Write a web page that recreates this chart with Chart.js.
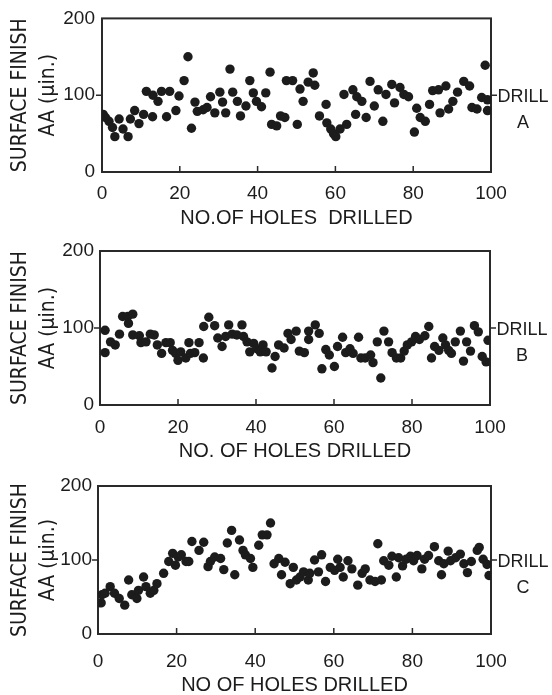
<!DOCTYPE html>
<html>
<head>
<meta charset="utf-8">
<script src="https://cdn.jsdelivr.net/npm/chart.js@4.4.0/dist/chart.umd.min.js"></script>
<style>
  html, body { margin: 0; padding: 0; background: #fff; overflow: hidden; }
  body { width: 552px; height: 695px; position: relative; }
  .panel { position: absolute; left: 0; width: 552px; }
</style>
</head>
<body>
<div class="panel" style="top:0px"><canvas id="chartA" width="552" height="230"></canvas></div>
<div class="panel" style="top:231px"><canvas id="chartB" width="552" height="232"></canvas></div>
<div class="panel" style="top:463px"><canvas id="chartC" width="552" height="234"></canvas></div>
<script>
// surface finish readings, drill A
const holesA = [0.3,0.9,1.8,2.7,3.3,4.4,5.4,6.7,7.3,8.4,9.5,10.7,11.4,13,13.1,14.4,15.3,16.6,17.4,19,
  19.8,21.1,22.1,23,23.9,24.5,26,27,27.9,29,30.3,31,31.8,32.9,33.6,34.8,35.6,37,38,38.9,
  39.7,41,42.1,43.2,43.6,44.9,45.9,47,47.4,49,50.2,50.9,51.7,53,54.3,54.7,55.9,57.6,57.8,58.8,
  59.5,60.1,61.2,62.2,62.9,64.5,65.2,65.5,66.8,67.9,68.9,70,71,72.2,73,74.5,75.2,76.6,77.6,78.8,
  80.3,80.9,81.8,83.1,84.2,85,86.5,86.9,88.4,89.1,90.2,91.4,93,94.5,95.1,96.4,97.6,98.5,99.1,99.1];
const finishA = [75,71,66,58,46,69,56,46,69,80,63,75,105,72,100,92,105,72,105,80,
  99,119,150,57,91,79,81,84,98,77,104,91,77,134,104,92,73,86,119,103,
  92,85,103,130,62,60,73,71,119,119,62,108,92,117,129,113,73,88,64,56,
  50,46,56,101,62,107,75,98,92,71,118,86,107,66,101,114,90,110,101,98,
  52,83,71,66,88,106,107,77,112,82,92,104,118,112,84,82,97,139,94,80];

// drill B
const holesB = [1.3,1.3,2.7,3.9,5.0,5.8,7.1,7.3,8.4,8.4,10.1,10.5,11.8,12.9,13.9,14.7,15.8,16.9,18.0,18.6,
  19.4,20.0,20.7,22.0,22.8,23.2,24.3,25.4,26.5,26.6,27.9,29.4,30.2,31.3,32.2,33.0,33.9,35.1,36.4,36.8,
  37.7,38.4,39.4,40.2,41.1,41.8,42.6,44.1,44.9,45.8,47.2,48.2,49.0,50.3,51.1,52.4,53.5,53.5,55.2,56.2,
  56.9,57.9,58.8,60.1,60.9,62.2,63.0,64.1,64.9,66.3,66.9,68.0,69.4,70.0,71.1,72.0,72.8,74.0,74.9,76.0,
  77.1,78.0,78.8,79.9,80.9,81.9,83.3,84.3,85.0,85.8,86.9,87.9,88.6,89.4,90.1,91.1,92.4,93.2,94,95,
  96,97,98,99,99.5];
const finishB = [97,68,82,78,92,115,115,106,118,91,90,81,82,92,91,78,67,81,81,71,
  67,58,69,61,81,67,68,81,61,102,114,103,87,76,89,104,92,91,104,89,
  82,69,80,73,69,78,69,48,63,78,74,93,85,96,70,68,85,96,104,93,
  47,72,65,50,76,88,68,73,67,88,61,61,65,55,82,35,96,82,68,61,
  61,70,78,82,89,85,90,102,61,76,71,87,78,71,67,82,96,57,82,70,
  103,95,63,56,84];

// drill C
const holesC = [0.8,1.0,1.8,3.1,4.2,5.4,6.8,7.8,8.6,9.9,10.3,11.6,12.2,13.3,14.2,15.0,16.7,18.0,19.0,19.7,
  20.4,21.2,22.4,23.1,23.9,25.7,26.9,28.0,28.6,29.7,31.2,32.0,32.9,34.0,34.8,36.0,36.9,37.5,38.8,39.4,
  40.9,41.8,43.0,43.9,44.8,46.0,46.7,47.6,48.9,49.7,50.5,51.4,52.3,53.5,53.9,55.1,56.1,56.9,57.9,59.1,
  60.2,61.0,61.6,62.4,63.6,64.6,66.1,67.2,68.0,69.2,70.5,71.2,72.1,72.7,74.0,74.8,75.9,76.5,77.5,78.4,
  79.5,80.3,81.2,82.4,83.1,84.1,85.6,86.7,87.4,88.0,89.1,89.7,91.0,92.2,93.1,94,95,96.5,97,98,
  99,99.5];
const finishC = [42,53,55,64,55,48,39,73,53,48,59,77,64,55,59,68,82,98,109,93,
  104,107,98,98,125,113,124,91,98,104,102,87,123,140,80,127,113,107,102,90,
  120,134,134,150,95,102,80,97,68,90,73,77,84,73,82,100,84,107,71,90,
  86,101,90,77,99,88,66,82,88,73,71,122,73,99,93,105,77,103,92,101,
  105,99,106,88,101,106,118,99,80,95,112,99,103,108,95,83,98,113,117,101,
  94,79];

const xTicks = [0, 20, 40, 60, 80, 100];
const yTicks = [0, 100, 200];
const yTitle = ['SURFACE FINISH', 'AA (\u03bcin.)'];

const ink = '#1c1c1c';
const FONT = '"Liberation Sans", Arial, sans-serif';
const NARROW = '"Liberation Sans Narrow", "DejaVu Sans Condensed", sans-serif';

// frame, inward ticks and the DRILL label
const framePlugin = {
  id: 'frame',
  beforeDatasetsDraw(chart, args, opts) {
    const { ctx, chartArea: a, scales: { x, y } } = chart;
    ctx.save();
    ctx.strokeStyle = '#2a2a2a';
    ctx.lineWidth = 2;
    ctx.strokeRect(a.left, a.top, a.right - a.left, a.bottom - a.top);
    ctx.lineWidth = 1.5;
    ctx.beginPath();
    xTicks.forEach(v => {
      const px = x.getPixelForValue(v);
      ctx.moveTo(px, a.bottom);
      ctx.lineTo(px, a.bottom - 6);
    });
    const py = y.getPixelForValue(100);
    ctx.moveTo(a.left - 6, py); ctx.lineTo(a.left, py);
    ctx.moveTo(a.right, py); ctx.lineTo(a.right + 6, py);
    ctx.stroke();
    ctx.fillStyle = ink;
    ctx.font = '18px ' + FONT;
    ctx.textAlign = 'center';
    ctx.textBaseline = 'middle';
    ctx.fillText('DRILL', a.right + 32, py + 2);
    ctx.fillText(opts.drill, a.right + 32, py + 28);
    ctx.restore();
  }
};

function makePanel(id, xs, ys, p) {
  const canvas = document.getElementById(id);
  const H = canvas.height;
  const points = xs.map((v, i) => ({ x: v, y: ys[i] }));
  return new Chart(canvas, {
    type: 'scatter',
    data: {
      datasets: [{
        data: points,
        pointRadius: 4.7,
        pointBackgroundColor: ink,
        pointBorderWidth: 0
      }]
    },
    plugins: [framePlugin],
    options: {
      responsive: false,
      animation: false,
      events: [],
      layout: { padding: { top: p.top, right: 552 - p.right, left: 0, bottom: 0 } },
      plugins: {
        legend: { display: false },
        tooltip: { enabled: false },
        frame: { drill: p.drill }
      },
      scales: {
        x: {
          type: 'linear', min: 0, max: 100,
          grid: { display: false, drawTicks: false },
          border: { display: false },
          afterBuildTicks: s => { s.ticks = xTicks.map(v => ({ value: v })); },
          ticks: { autoSkip: false, maxRotation: 0, padding: p.xPad, color: ink, font: { family: FONT, size: 19 } },
          title: { display: true, text: p.xTitle, color: ink, padding: 0, font: { family: FONT, size: 20, lineHeight: 1.2 } },
          afterFit: s => { s.height = H - p.bottom; }
        },
        y: {
          type: 'linear', min: 0, max: 200,
          grid: { display: false, drawTicks: false },
          border: { display: false },
          afterBuildTicks: s => { s.ticks = yTicks.map(v => ({ value: v })); },
          ticks: { padding: p.yPad, color: ink, font: { family: FONT, size: 19 } },
          title: { display: true, text: yTitle, color: ink, padding: { top: 6, bottom: 0 }, font: { family: NARROW, size: 21, lineHeight: 1.35 } },
          afterFit: s => { s.width = p.left; }
        }
      }
    }
  });
}

makePanel('chartA', holesA, finishA, { drill: 'A', xTitle: 'NO.OF HOLES  DRILLED', left: 102, right: 491, top: 16, bottom: 172, xPad: 10, yPad: 7 });
makePanel('chartB', holesB, finishB, { drill: 'B', xTitle: 'NO. OF HOLES DRILLED', left: 100, right: 490, top: 20, bottom: 174, xPad: 11, yPad: 6 });
makePanel('chartC', holesC, finishC, { drill: 'C', xTitle: 'NO OF HOLES DRILLED', left: 98, right: 491, top: 23, bottom: 171, xPad: 16, yPad: 6 });
</script>
</body>
</html>
